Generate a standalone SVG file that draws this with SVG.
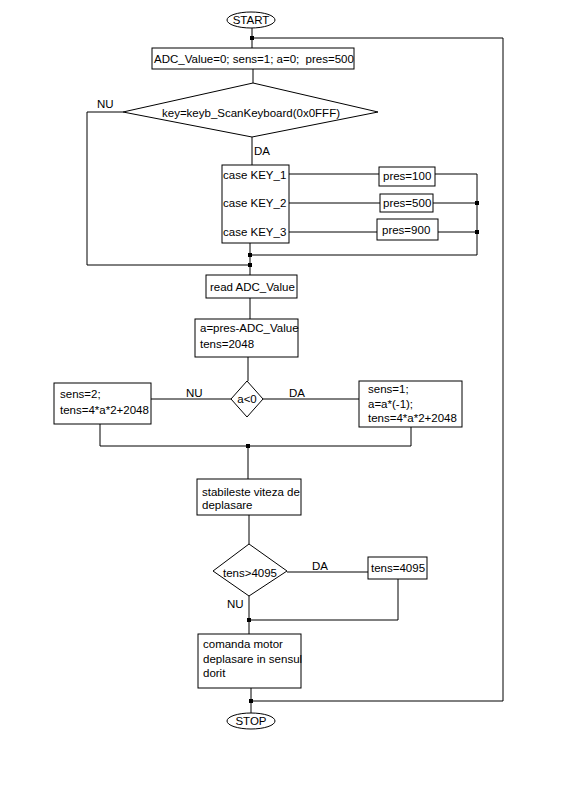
<svg xmlns="http://www.w3.org/2000/svg" width="576" height="785" viewBox="0 0 576 785">
<style>
.s{fill:#fff;stroke:#000;stroke-width:1}
.l{fill:none;stroke:#000;stroke-width:1}
text{font-family:"Liberation Sans",Arial,sans-serif;font-size:11.5px;fill:#000}
.c{text-anchor:middle}
.d{fill:#000}
</style>
<rect width="576" height="785" fill="#fff"/>
<g id="connectors">
<path class="l" d="M252,28V48"/>
<path class="l" d="M253,69V83"/>
<path class="l" d="M123,112H87V265H250"/>
<path class="l" d="M252,137V165"/>
<path class="l" d="M289,174H379M435,174H477"/>
<path class="l" d="M289,203H380M433,203H477"/>
<path class="l" d="M289,232H377M438,232H477"/>
<path class="l" d="M477,174V255H250"/>
<path class="l" d="M250,243V275"/>
<path class="l" d="M250,298V319"/>
<path class="l" d="M248,357V381"/>
<path class="l" d="M231,399H151"/>
<path class="l" d="M263,399H359"/>
<path class="l" d="M100,424V446H411V427"/>
<path class="l" d="M248,446V479"/>
<path class="l" d="M249,515V544"/>
<path class="l" d="M287,572H368"/>
<path class="l" d="M398,579V620H249"/>
<path class="l" d="M249,596V634"/>
<path class="l" d="M251,688V713"/>
<path class="l" d="M251,701H503V38H252"/>
<rect class="d" x="250" y="36" width="4" height="4"/>
<rect class="d" x="475" y="201" width="4" height="4"/>
<rect class="d" x="475" y="230" width="4" height="4"/>
<rect class="d" x="248" y="253" width="4" height="4"/>
<rect class="d" x="248" y="263" width="4" height="4"/>
<rect class="d" x="246" y="444" width="4" height="4"/>
<rect class="d" x="247" y="618" width="4" height="4"/>
<rect class="d" x="249" y="699" width="4" height="4"/>
<text x="97" y="108">NU</text>
<text x="254" y="155">DA</text>
<text x="186" y="397">NU</text>
<text x="289" y="397">DA</text>
<text x="312" y="570">DA</text>
<text x="227" y="608">NU</text>
</g>
<g id="start">
<ellipse class="s" cx="251" cy="20" rx="24" ry="8"/>
<text class="c" x="251" y="24">START</text>
</g>
<g id="init">
<rect class="s" x="152" y="48" width="202" height="21"/>
<text x="154" y="63" xml:space="preserve">ADC_Value=0; sens=1; a=0;  pres=500</text>
</g>
<g id="scan">
<polygon class="s" points="253,83 378,112 252,137 123,112"/>
<text class="c" x="251" y="117">key=keyb_ScanKeyboard(0x0FFF)</text>
</g>
<g id="case">
<rect class="s" x="222" y="165" width="67" height="78"/>
<text x="223" y="179">case KEY_1</text>
<text x="223" y="207">case KEY_2</text>
<text x="223" y="236">case KEY_3</text>
</g>
<g id="p100">
<rect class="s" x="379" y="167" width="56" height="19"/>
<text x="383" y="180">pres=100</text>
</g>
<g id="p500">
<rect class="s" x="380" y="194" width="53" height="18"/>
<text x="383" y="207">pres=500</text>
</g>
<g id="p900">
<rect class="s" x="377" y="219" width="61" height="21"/>
<text x="382" y="234">pres=900</text>
</g>
<g id="read">
<rect class="s" x="206" y="275" width="91" height="23"/>
<text x="210" y="291">read ADC_Value</text>
</g>
<g id="calc">
<rect class="s" x="195" y="319" width="103" height="38"/>
<text x="200" y="332">a=pres-ADC_Value</text>
<text x="200" y="348">tens=2048</text>
</g>
<g id="cond">
<polygon class="s" points="247,381 263,399 247,417 231,399"/>
<text class="c" x="247" y="403">a&lt;0</text>
</g>
<g id="neg">
<rect class="s" x="54" y="383" width="97" height="41"/>
<text x="60" y="398">sens=2;</text>
<text x="60" y="414">tens=4*a*2+2048</text>
</g>
<g id="pos">
<rect class="s" x="359" y="381" width="103" height="46"/>
<text x="368" y="393">sens=1;</text>
<text x="368" y="408">a=a*(-1);</text>
<text x="368" y="422">tens=4*a*2+2048</text>
</g>
<g id="speed">
<rect class="s" x="197" y="479" width="104" height="36"/>
<text x="202" y="496">stabileste viteza de</text>
<text x="202" y="509">deplasare</text>
</g>
<g id="limit">
<polygon class="s" points="249,544 287,571 249,596 213,571"/>
<text class="c" x="250" y="577">tens&gt;4095</text>
</g>
<g id="clamp">
<rect class="s" x="368" y="557" width="59" height="22"/>
<text x="371" y="572">tens=4095</text>
</g>
<g id="motor">
<rect class="s" x="198" y="634" width="103" height="54"/>
<text x="203" y="648">comanda motor</text>
<text x="203" y="663">deplasare in sensul</text>
<text x="203" y="677">dorit</text>
</g>
<g id="stop">
<ellipse class="s" cx="251" cy="721" rx="24" ry="8"/>
<text class="c" x="251" y="725">STOP</text>
</g>
</svg>
